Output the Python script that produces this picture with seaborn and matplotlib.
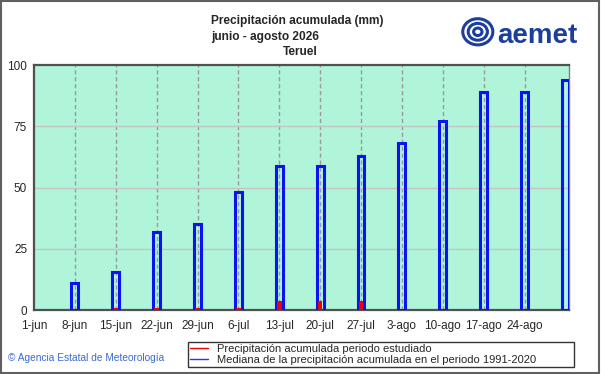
import matplotlib
matplotlib.use("Agg")
import matplotlib.pyplot as plt
from matplotlib.lines import Line2D
from matplotlib.patches import Rectangle, Ellipse
import seaborn as sns

# days since 1 June
median_days = [7, 14, 21, 28, 35, 42, 49, 56, 63, 70, 77, 84, 91]
median_vals = [11, 15.5, 32, 35, 48, 59, 59, 63, 68, 77, 89, 89, 94]
studied_days = [7, 14, 21, 28, 35, 42, 49, 56]
studied_vals = [0, 0.8, 0.8, 0.8, 0.8, 3.5, 3.5, 3.5]
tick_days = [0, 7, 14, 21, 28, 35, 42, 49, 56, 63, 70, 77, 84]
tick_labels = ["1-jun", "8-jun", "15-jun", "22-jun", "29-jun", "6-jul", "13-jul",
               "20-jul", "27-jul", "3-ago", "10-ago", "17-ago", "24-ago"]

sns.set_style("white")
plt.rcParams["font.family"] = ["Liberation Sans", "DejaVu Sans"]

fig = plt.figure(figsize=(6.01, 3.74), dpi=100)
ax = fig.add_axes([0.0566, 0.171, 0.890, 0.655])
ax.set_facecolor("#b0f4da")

sns.barplot(x=median_days, y=median_vals, native_scale=True, width=0.17,
            fill=False, color="#0a14f0", linewidth=2.2, ax=ax, zorder=3)
sns.barplot(x=studied_days, y=studied_vals, native_scale=True, width=0.11,
            color="#f00000", linewidth=0, saturation=1, ax=ax, zorder=4)

ax.set_xlim(0, 91.6)
ax.set_ylim(0, 100)
ax.set_xticks(tick_days)
ax.set_xticklabels(tick_labels, fontsize=8.5)
ax.set_yticks([0, 25, 50, 75, 100])
ax.set_yticklabels(["0", "25", "50", "75", "100"], fontsize=8.5)
ax.tick_params(axis="x", length=0, pad=7)
ax.tick_params(axis="y", length=0, pad=5)
ax.set_xlabel("")
ax.set_ylabel("")

for d in tick_days[1:]:
    ax.axvline(d, color="#9a9a9a", lw=1, ls=(0, (3, 2)), zorder=1)
for v in [25, 50, 75]:
    ax.axhline(v, color="#c4c4c4", lw=1, zorder=1)

for side in ["left", "bottom", "top"]:
    ax.spines[side].set_color("#505050")
    ax.spines[side].set_linewidth(1.6)
ax.spines["right"].set_color("#808080")
ax.spines["right"].set_linewidth(1)

fig.text(0.351, 0.935, "Precipitación acumulada (mm)", fontsize=8.6, weight="bold")
fig.text(0.351, 0.893, "junio - agosto 2026", fontsize=8.6, weight="bold")
fig.text(0.471, 0.852, "Teruel", fontsize=8.6, weight="bold")

# logo
fig.text(0.828, 0.905, "aemet", fontsize=20, weight="bold", color="#1c3f9c",
         va="center", ha="left")
for w, h in [(0.05, 0.07), (0.032, 0.045), (0.014, 0.02)]:
    fig.add_artist(Ellipse((0.795, 0.915), w, h, transform=fig.transFigure,
                           fill=False, ec="#1c3f9c", lw=2.2))

fig.text(0.013, 0.042, "© Agencia Estatal de Meteorología", fontsize=7.3,
         color="#3a6ad0", va="center")

handles = [Line2D([], [], color="#f00000", lw=1),
           Line2D([], [], color="#3030f0", lw=1)]
labels = ["Precipitación acumulada periodo estudiado",
          "Mediana de la precipitación acumulada en el periodo 1991-2020"]
leg = fig.legend(handles, labels, loc="lower left",
                 bbox_to_anchor=(0.313, 0.019, 0.642, 0.086), mode="expand",
                 fontsize=8, frameon=True, fancybox=False, handlelength=1.6,
                 labelspacing=0.05, borderpad=0.2, borderaxespad=0)
leg.get_frame().set_edgecolor("black")
leg.get_frame().set_linewidth(1)

fig.add_artist(Rectangle((0.001, 0.002), 0.996, 0.995, transform=fig.transFigure,
                         fill=False, ec="#606060", lw=1.5))

fig.savefig("out.png", dpi=100)
